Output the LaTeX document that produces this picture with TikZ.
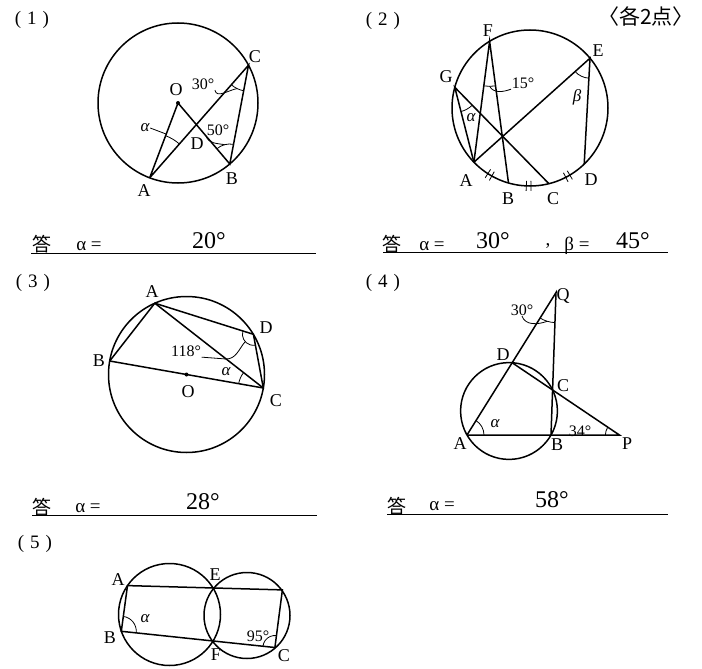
\documentclass[tikz,border=0pt]{standalone}
\usepackage{fontspec}
\setmainfont{Liberation Serif}
\newfontfamily\cjk{Noto Sans CJK JP}
\usetikzlibrary{angles,calc}

\begin{document}
\begin{tikzpicture}[x=1pt, y=-1pt, line width=1.5pt,
  lbl/.style={inner sep=0pt, font=\fontsize{18}{18}\selectfont},
  deg/.style={inner sep=0pt, font=\fontsize{16}{16}\selectfont},
  gk/.style={inner sep=0pt, font=\fontsize{17}{17}\selectfont\itshape},
  qno/.style={inner sep=0pt, font=\fontsize{19}{19}\selectfont},
  kotae/.style={inner sep=0pt, font=\fontsize{19}{19}\selectfont\cjk},
  ans/.style={inner sep=0pt, font=\fontsize{19}{19}\selectfont},
  hand/.style={inner sep=0pt, font=\fontsize{24}{24}\selectfont},
  ang/.style={draw, line width=0.8pt},
  lead/.style={line width=0.8pt},
  tick/.style={line width=0.8pt},
  uline/.style={line width=1pt}]
  \useasboundingbox (0,0) rectangle (702,669);
  \node[kotae, font=\fontsize{21}{21}\selectfont\cjk] (ten) at (646,16) {〈各2点〉};

  % (1)
  \node[qno] (n1) at (32,20) {(\hspace{6pt}1\hspace{6pt})};
  \coordinate (O1) at (178,103);
  \coordinate (A1) at (149.7,177.8); \coordinate (B1) at (229.8,164.0); \coordinate (C1) at (248.5,65.2);
  \coordinate (D1) at (intersection of O1--B1 and A1--C1);
  \draw (O1) circle[radius=80pt];
  \draw (A1) -- (O1) -- (B1) -- (C1) -- (A1);
  \fill (O1) circle[radius=2pt];
  \pic[ang, angle radius=26pt] {angle = A1--C1--B1};
  \pic[ang, angle radius=20pt] {angle = C1--B1--O1};
  \pic[ang, angle radius=45pt] {angle = C1--A1--O1};
  \node[lbl] (lO1) at (176,90) {O}; \node[lbl] (lA1) at (144,191) {A};
  \node[lbl] (lB1) at (232,179) {B}; \node[lbl] (lC1) at (255,57) {C};
  \node[lbl] (lD1) at (197,144) {D};
  \node[deg] (t30) at (203,84) {30°}; \node[deg] (t50) at (218,130) {50°};
  \node[gk] (al1) at (145,128) {α};
  \coordinate (m30) at (237.1,88.6); \coordinate (m50) at (224.7,144.7); \coordinate (mal1) at (166,134);
  \draw[lead] (t30.south east) to[out=-80,in=190] (m30);
  \draw[lead] (t50.south west) to[out=-70,in=170] (m50);
  \draw[lead] (al1.east) -- (mal1);
  \draw[uline] (31,253) -- (316,253);
  \node[kotae] (k1) at (42,244) {答}; \node[ans] (e1) at (89,246) {α =};
  \node[hand] (v1) at (209,241) {20°};

  % (2)
  \node[qno] (n2) at (383,21) {(\hspace{6pt}2\hspace{6pt})};
  \coordinate (O2) at (530,108);
  \coordinate (F2) at (489.6,41.3); \coordinate (E2) at (590.0,58.2); \coordinate (G2) at (454.8,87.3);
  \coordinate (A2) at (473.9,162.2); \coordinate (B2) at (508.5,183.0);
  \coordinate (C2) at (548.9,183.7); \coordinate (D2) at (584.2,164.1);
  \draw (O2) circle[radius=78pt];
  \draw (A2) -- (G2) -- (C2);
  \draw (A2) -- (F2) -- (B2);
  \draw (A2) -- (E2) -- (D2);
  % 같은 호 표시
  \draw[tick] ($(O2)+(-237.3:73)$) -- ($(O2)+(-237.3:83)$); \draw[tick] ($(O2)+(-240.7:73)$) -- ($(O2)+(-240.7:83)$);
  \draw[tick] ($(O2)+(-267.3:73)$) -- ($(O2)+(-267.3:83)$); \draw[tick] ($(O2)+(-270.7:73)$) -- ($(O2)+(-270.7:83)$);
  \draw[tick] ($(O2)+(-297.3:73)$) -- ($(O2)+(-297.3:83)$); \draw[tick] ($(O2)+(-300.7:73)$) -- ($(O2)+(-300.7:83)$);
  \pic[ang, angle radius=25pt] {angle = A2--G2--C2};
  \pic[ang, angle radius=45pt] {angle = A2--F2--B2};
  \pic[ang, angle radius=20pt] {angle = A2--E2--D2};
  \node[lbl] (lF2) at (488,31) {F}; \node[lbl] (lE2) at (598,51) {E};
  \node[lbl] (lG2) at (446,77) {G}; \node[lbl] (lA2) at (466,181) {A};
  \node[lbl] (lB2) at (508,199) {B}; \node[lbl] (lC2) at (553,199) {C};
  \node[lbl] (lD2) at (591,180) {D};
  \node[gk] (al2) at (471,118) {α}; \node[gk] (be2) at (577,97) {β};
  \node[deg] (t15) at (523,83) {15°};
  \coordinate (m15) at (489.6,86.3);
  \draw[lead] (m15) to[out=-60,in=-160] (t15.south west);
  \draw[uline] (383,252) -- (668,252);
  \node[kotae] (k2) at (392,244) {答}; \node[ans] (e2) at (432,246) {α =};
  \node[hand] (v2) at (493,241) {30°}; \node[ans] (c2) at (548,246) {,};
  \node[ans] (f2) at (577,246) {β =}; \node[hand] (w2) at (633,241) {45°};

  % (3)
  \node[qno] (n3) at (33,283) {(\hspace{6pt}3\hspace{6pt})};
  \coordinate (O3) at (186.5,374.5);
  \coordinate (A3) at (154.8,303.2); \coordinate (B3) at (109.7,361.0);
  \coordinate (C3) at (263.3,388.0); \coordinate (D3) at (253.4,334.3);
  \draw (O3) circle[radius=78pt];
  \draw (B3) -- (A3) -- (D3) -- (C3) -- (B3);
  \draw (A3) -- (C3);
  \fill (O3) circle[radius=2pt];
  \pic[ang, angle radius=11pt] {angle = A3--D3--C3};
  \pic[ang, angle radius=25pt] {angle = A3--C3--B3};
  \node[lbl] (lA3) at (152,292) {A}; \node[lbl] (lB3) at (99,361) {B};
  \node[lbl] (lO3) at (188,392) {O}; \node[lbl] (lC3) at (276,401) {C};
  \node[lbl] (lD3) at (266,328) {D};
  \node[deg] (t118) at (186,351) {118°}; \node[gk] (al3) at (226,372) {α};
  \coordinate (k118) at (226,359); \coordinate (m118) at (245.2,341.6);
  \draw[lead] (t118.south east) -- (k118) to[out=0,in=-130] (m118);
  \draw[uline] (32,515) -- (317,515);
  \node[kotae] (k3) at (42,507) {答}; \node[ans] (e3) at (88,508) {α =};
  \node[hand] (v3) at (203,502) {28°};

  % (4)
  \node[qno] (n4) at (383,283) {(\hspace{6pt}4\hspace{6pt})};
  \coordinate (O4) at (509,411);
  \coordinate (A4) at (467,435); \coordinate (B4) at (551,435); \coordinate (C4) at (552.6,390.0);
  \coordinate (D4) at (512.1,362.7); \coordinate (P4) at (619.4,435); \coordinate (Q4) at (556,292.6);
  \draw (O4) circle[radius=48.4pt];
  \draw (A4) -- (P4) -- (D4);
  \draw (A4) -- (Q4) -- (B4);
  \pic[ang, angle radius=17pt] {angle = P4--A4--Q4};
  \pic[ang, angle radius=14pt] {angle = D4--P4--A4};
  \pic[ang, angle radius=30pt] {angle = A4--Q4--B4};
  \node[lbl] (lQ4) at (563,296) {Q}; \node[lbl] (lD4) at (503,355) {D};
  \node[lbl] (lC4) at (563,386) {C}; \node[lbl] (lA4) at (460,444) {A};
  \node[lbl] (lB4) at (557,445) {B}; \node[lbl] (lP4) at (627,444) {P};
  \node[deg] (t30b) at (522,310) {30°}; \node[gk] (al4) at (495,424) {α};
  \node[deg] (t34) at (580,431) {34°};
  \coordinate (m30b) at (547.2,321.3);
  \draw[lead] (t30b.south) to[out=-70,in=200] (m30b);
  \draw[uline] (387,514) -- (668,514);
  \node[kotae] (k4) at (397,506) {答}; \node[ans] (e4) at (442,506) {α =};
  \node[hand] (v4) at (552,500) {58°};

  % (5)
  \node[qno] (n5) at (35,544) {(\hspace{6pt}5\hspace{6pt})};
  \coordinate (O5) at (169.5,614.5); \coordinate (O6) at (247,615.5);
  \coordinate (A5) at (127.5,585.6); \coordinate (E5) at (213.1,588); \coordinate (D5) at (282.4,589.9);
  \coordinate (B5) at (121.3,631.3); \coordinate (F5) at (213.1,641); \coordinate (C5) at (274.9,647.5);
  \draw (O5) circle[radius=51pt];
  \draw (O6) circle[radius=43pt];
  \draw (A5) -- (D5) -- (C5) -- (B5) -- cycle;
  \pic[ang, angle radius=15pt] {angle = F5--B5--A5};
  \pic[ang, angle radius=12pt] {angle = D5--C5--F5};
  \node[lbl] (lA5) at (118,580) {A}; \node[lbl] (lE5) at (215,575) {E};
  \node[lbl] (lB5) at (110,638) {B}; \node[lbl] (lF5) at (216,655) {F};
  \node[lbl] (lC5) at (284,656) {C};
  \node[gk] (al5) at (145,619) {α}; \node[deg] (t95) at (258,636) {95°};
\end{tikzpicture}
\end{document}
